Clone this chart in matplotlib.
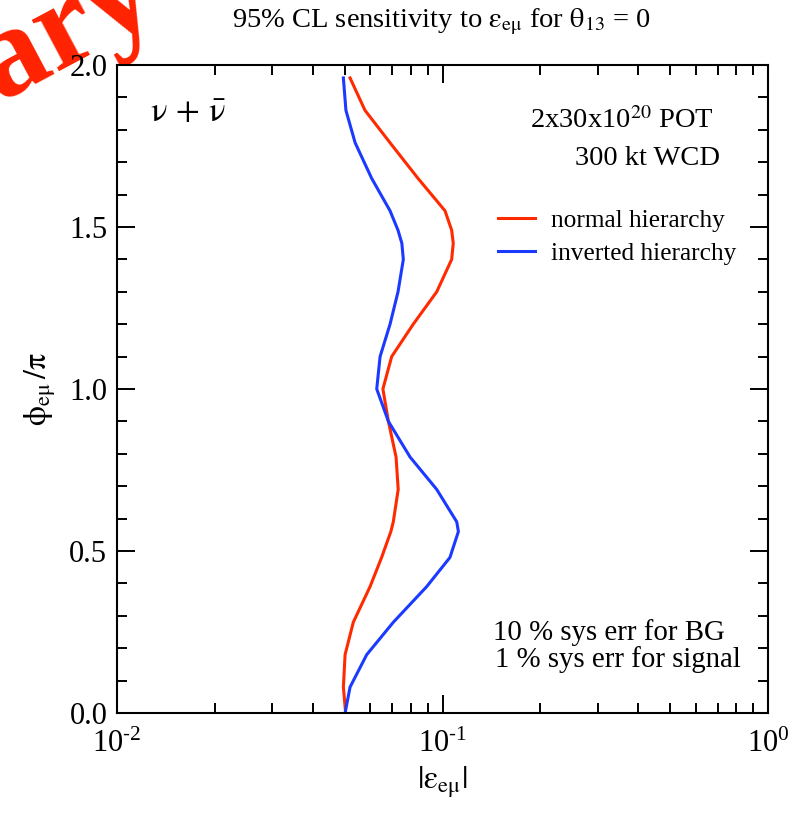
import matplotlib
matplotlib.use("Agg")
import matplotlib.pyplot as plt
from matplotlib.ticker import FixedLocator, FixedFormatter, LogLocator, MultipleLocator, NullFormatter

plt.rcParams['font.family'] = ['Liberation Serif', 'DejaVu Serif']
plt.rcParams['mathtext.fontset'] = 'stix'

# phase phi_emu / pi and the 95% CL limit on |eps_emu| for each hierarchy
phi = [0.00, 0.08, 0.18, 0.28, 0.39, 0.48, 0.56, 0.59, 0.69, 0.79, 0.90, 1.00,
       1.10, 1.20, 1.30, 1.40, 1.45, 1.49, 1.55, 1.65, 1.76, 1.86, 1.96]
eps_normal = [0.0504, 0.0496, 0.0502, 0.0532, 0.0599, 0.0650, 0.0694, 0.0706,
              0.0731, 0.0720, 0.0682, 0.0656, 0.0698, 0.0813, 0.0960, 0.1067,
              0.1079, 0.1067, 0.1018, 0.0841, 0.0690, 0.0578, 0.0520]
eps_inverted = [0.0502, 0.0520, 0.0585, 0.0706, 0.0894, 0.1054, 0.1119, 0.1106,
                0.0960, 0.0795, 0.0682, 0.0628, 0.0643, 0.0690, 0.0730, 0.0758,
                0.0750, 0.0730, 0.0690, 0.0606, 0.0539, 0.0505, 0.0496]

series_labels = ['normal hierarchy', 'inverted hierarchy']
xticks = [1e-2, 1e-1, 1e0]
xtick_labels = [r'$\mathdefault{10^{\text{-}2}}$', r'$\mathdefault{10^{\text{-}1}}$',
                r'$\mathdefault{10^{0}}$']
yticks = [0.0, 0.5, 1.0, 1.5, 2.0]
ytick_labels = ['0.0', '0.5', '1.0', '1.5', '2.0']

RED = '#ff2a00'
BLUE = '#1a3aff'

fig = plt.figure(figsize=(7.92, 8.13), dpi=100)
ax = fig.add_axes([117/792, 1 - 713/813, 651/792, 648/813])

ax.plot(eps_normal, phi, color=RED, lw=2.2, label=series_labels[0],
        solid_joinstyle='round')
ax.plot(eps_inverted, phi, color=BLUE, lw=2.2, label=series_labels[1],
        solid_joinstyle='round')

ax.set_xscale('log')
ax.set_xlim(1e-2, 1e0)
ax.set_ylim(0.0, 2.0)

ax.xaxis.set_major_locator(FixedLocator(xticks))
ax.xaxis.set_major_formatter(FixedFormatter(xtick_labels))
ax.xaxis.set_minor_locator(LogLocator(base=10, subs=range(2, 10)))
ax.xaxis.set_minor_formatter(NullFormatter())
ax.yaxis.set_major_locator(FixedLocator(yticks))
ax.yaxis.set_major_formatter(FixedFormatter(ytick_labels))
ax.yaxis.set_minor_locator(MultipleLocator(0.1))

ax.tick_params(which='both', direction='in', top=True, right=True, width=1.4)
ax.tick_params(which='major', length=13, labelsize=22)
ax.tick_params(axis='y', which='major', pad=7)
ax.tick_params(axis='x', which='major', pad=12)
ax.tick_params(which='minor', length=7)
for s in ax.spines.values():
    s.set_linewidth(1.5)

ax.set_xlabel(r'$|\mathrm{\varepsilon}_{\mathrm{e\mu}}|$', fontsize=23, labelpad=4)
ax.set_ylabel(r'$\mathrm{\phi}_{\mathrm{e\mu}}\,/\mathrm{\pi}$', fontsize=23, labelpad=8)

fig.text(441/792, 1 - 22/813,
         r'95% CL sensitivity to $\mathrm{\varepsilon}_{\mathrm{e\mu}}$ for $\mathrm{\theta}_{13}$ = 0',
         ha='center', va='center', fontsize=20.5)

ax.text(0.05, 0.925, r'$\mathrm{\nu}\,+\,\bar{\mathrm{\nu}}$', transform=ax.transAxes,
        fontsize=25, ha='left', va='center')
ax.text(0.917, 0.915, r'2x30x10$^{20}$ POT', transform=ax.transAxes, fontsize=20.5,
        ha='right', va='center')
ax.text(0.927, 0.856, '300 kt WCD', transform=ax.transAxes, fontsize=20.5,
        ha='right', va='center')
ax.text(0.578, 0.124, '10 % sys err for BG', transform=ax.transAxes, fontsize=20.8,
        ha='left', va='center')
ax.text(0.581, 0.082, '1 % sys err for signal', transform=ax.transAxes, fontsize=20.8,
        ha='left', va='center')

ax.legend(loc='upper left', bbox_to_anchor=(0.585, 0.778), frameon=False,
          fontsize=18.3, handlelength=1.45, handletextpad=0.65, labelspacing=0.42,
          borderaxespad=0, borderpad=0)

# watermark across the upper-left corner
fig.text(163/792, 1 - 15/813, 'Preliminary', rotation=28, rotation_mode='anchor',
         ha='right', va='baseline', fontsize=92, fontweight='bold', color='#ff2200',
         zorder=-1)

fig.savefig('out.png', dpi=100)
